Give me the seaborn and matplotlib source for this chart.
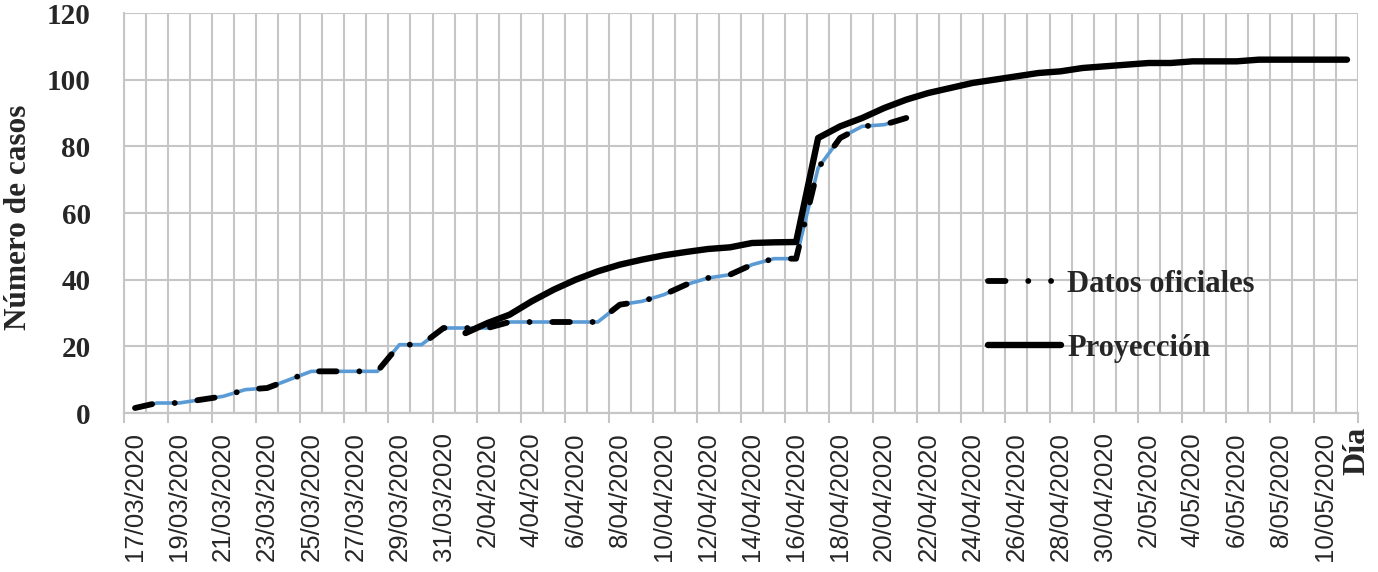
import numpy as np
import pandas as pd
import seaborn as sns
import matplotlib.pyplot as plt
from matplotlib.lines import Line2D

# days on the category axis, 17/03/2020 .. 11/05/2020
dias = pd.date_range("2020-03-17", "2020-05-11", freq="D")
etiquetas = [f"{d.day}/{d.month:02d}/{d.year}" for d in dias]

# official cases (17/03 .. 21/04)
oficiales = [1.5, 3, 3, 4, 5, 7, 7.5, 10, 12.5, 12.5, 12.5, 12.5, 20.5, 20.5,
             25.5, 25.5, 25.5, 27.3, 27.3, 27.3, 27.3, 27.3, 32.5, 33.5, 35.5,
             38.5, 40.5, 41.5, 44.5, 46.3, 46.3, 73.5, 82.5, 86, 86.5, 88.5]

# projection starts on 1/04 (day index 15)
inicio_proy = 15
proyeccion = [24, 27, 29.5, 33.5, 37, 40, 42.5, 44.5, 46, 47.3, 48.3, 49.2,
              49.7, 51, 51.2, 51.3, 82.5, 86, 88.5, 91.5, 94, 96, 97.5, 99,
              100, 101, 102, 102.5, 103.5, 104, 104.5, 105, 105, 105.5, 105.5,
              105.5, 106, 106, 106, 106, 106]

y_ticks = [0, 20, 40, 60, 80, 100, 120]

gris = '#C6C6C6'
azul = '#5B9BD5'
lw_dash = 4.2
patron = (0, (3.0, 3.9, 0.01, 3.9))            # long dash + dot
patron_leyenda = (0, (3.0, 3.9, 0.01, 3.9, 0.01, 8))  # legend shows dash dot dot

sns.set_style("white")
plt.rcParams['font.family'] = ['Liberation Serif', 'DejaVu Serif']

fig = plt.figure(figsize=(13.78, 5.72), dpi=100)
ax = fig.add_axes([124 / 1378, 1 - 413 / 572, 1234 / 1378, 400 / 572])

x_of = np.arange(len(oficiales))
x_pr = np.arange(inicio_proy, inicio_proy + len(proyeccion))

# blue line under the black dashes
sns.lineplot(x=x_of, y=oficiales, color=azul, lw=2.6, ax=ax)
sns.lineplot(x=x_of, y=oficiales, color='black', lw=lw_dash, linestyle=patron,
             dash_capstyle='round', ax=ax)
sns.lineplot(x=x_pr, y=proyeccion, color='black', lw=4.6,
             solid_capstyle='round', ax=ax)

ax.set_xlim(-0.5, len(dias) - 0.5)
ax.set_ylim(0, 120)

# labels every second day, vertical grid at every category boundary
ax.set_xticks(np.arange(0, len(dias), 2))
ax.set_xticklabels(etiquetas[::2], rotation=90, family='Liberation Sans',
                   fontsize=18.5)
ax.set_xticks(np.arange(-0.5, len(dias), 1), minor=True)
ax.tick_params(axis='x', which='both', length=0, pad=14)
ax.grid(axis='x', which='minor', color=gris, lw=1.5)
ax.grid(axis='x', which='major', visible=False)

ax.set_yticks(y_ticks)
ax.set_yticklabels([str(v) for v in y_ticks], fontsize=21, fontweight='bold')
ax.tick_params(axis='y', length=0, pad=24)
ax.grid(axis='y', color=gris, lw=1.5)
ax.set_axisbelow(True)

# tick marks only every 2 boundaries, like the original
sec = ax.secondary_xaxis('bottom')
sec.set_xticks(np.arange(-0.5, len(dias), 2))
sec.tick_params(labelbottom=False, length=7, width=1.5, color=gris)
sec.spines['bottom'].set_color(gris)
sec.spines['bottom'].set_linewidth(1.5)

for s in ['top', 'right']:
    ax.spines[s].set_visible(False)
for s in ['left', 'bottom']:
    ax.spines[s].set_color(gris)
    ax.spines[s].set_linewidth(1.5)

ax.set_xlabel('')
ax.set_ylabel('Número de casos', fontsize=22.5, fontweight='bold')
ax.yaxis.set_label_coords(-0.074, 0.49)

fig.text(1357 / 1378, 1 - 427 / 572, 'Día', rotation=90, ha='center',
         va='top', fontsize=23, fontweight='bold')

handles = [Line2D([], [], color='black', lw=lw_dash, linestyle=patron_leyenda,
                  dash_capstyle='round'),
           Line2D([], [], color='black', lw=4.6)]
ax.legend(handles, ['Datos oficiales', 'Proyección'], frameon=False,
          loc='upper left', bbox_to_anchor=(988 / 1378, 1 - 270 / 572),
          bbox_transform=fig.transFigure, prop={'size': 22, 'weight': 'bold'},
          handlelength=2.4, handletextpad=0.2, labelspacing=1.15,
          borderpad=0, borderaxespad=0)

fig.savefig('out.png', dpi=100)
